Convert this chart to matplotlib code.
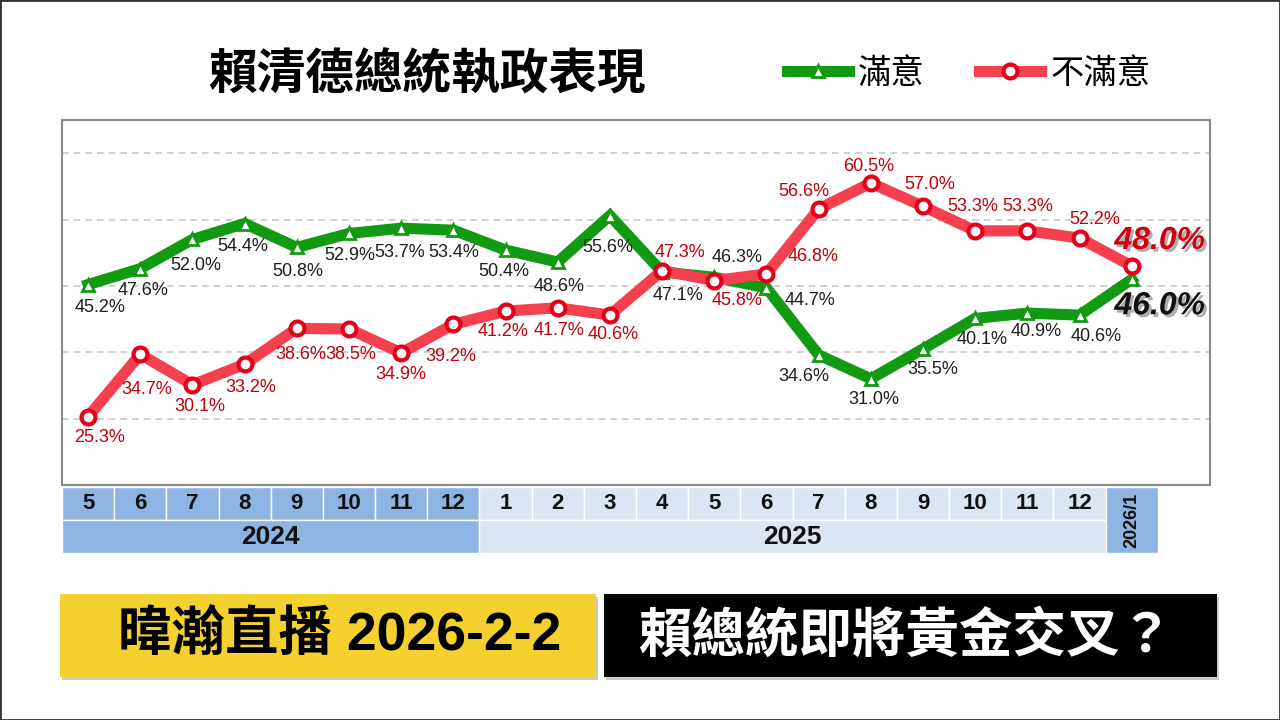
import matplotlib
matplotlib.use('Agg')
import matplotlib.pyplot as plt
import matplotlib.patheffects as pe
from matplotlib.patches import Rectangle

CJK = 'Noto Sans CJK TC'
NUM = ['Liberation Sans Narrow', 'Liberation Sans', 'DejaVu Sans']
BOLDNUM = ['Liberation Sans', 'Noto Sans CJK TC']

# ---- data ----
months = ['5', '6', '7', '8', '9', '10', '11', '12',
          '1', '2', '3', '4', '5', '6', '7', '8', '9', '10', '11', '12',
          '2026/1']
year_groups = [('2024', 0, 7), ('2025', 8, 19)]
last_month = '2026/1'

satisfied = [45.2, 47.6, 52.0, 54.4, 50.8, 52.9, 53.7, 53.4, 50.4, 48.6, 55.6,
             47.1, 46.3, 44.7, 34.6, 31.0, 35.5, 40.1, 40.9, 40.6, 46.0]
dissatisfied = [25.3, 34.7, 30.1, 33.2, 38.6, 38.5, 34.9, 39.2, 41.2, 41.7, 40.6,
                47.3, 45.8, 46.8, 56.6, 60.5, 57.0, 53.3, 53.3, 52.2, 48.0]

# label offsets from each point, in pixels (dx right, dy down)
sat_off = [(12, 23), (3, 22), (3, 26), (-2, 23), (1, 24), (1, 22), (-1, 24),
           (0, 22), (-2, 21), (1, 24), (-2, 32), (16, 24), (23, -20), (44, 13),
           (-15, 22), (3, 21), (10, 21), (7, 21), (9, 18), (17, 21), (28, 27)]
dis_off = [(11, 21), (6, 35), (7, 22), (6, 23), (4, 26), (2, 25), (0, 22),
           (-3, 32), (-2, 20), (1, 23), (3, 19), (18, -18), (23, 20), (47, -17),
           (-15, -17), (-2, -17), (7, -22), (-2, -24), (0, -24), (15, -19), (28, -25)]

GREEN = '#129a12'
RED_LINE = '#f5404f'
RED_MARK = '#e2001a'
BLUE = '#8eb4e3'
LIGHT = '#dce6f2'

W, H = 1280, 720
fig = plt.figure(figsize=(12.8, 7.2), dpi=100)
fig.patch.set_facecolor('white')

# ---- main plot ----
ax = fig.add_axes([62 / W, (H - 485) / H, (1210 - 62) / W, (485 - 120) / H])
x = list(range(len(months)))
ax.set_xlim(-0.5, 21.5)
ax.set_ylim(15, 70)
ax.set_yticks([25, 35, 45, 55, 65])
ax.grid(axis='y', color='#c8c8c8', linestyle=(0, (4, 3)), lw=1.2)
ax.tick_params(left=False, bottom=False, labelleft=False, labelbottom=False)
for s in ax.spines.values():
    s.set_color('#8a8a8a')
    s.set_linewidth(1.5)

l_sat, = ax.plot(x, satisfied, color=GREEN, lw=8, marker='^', ms=8,
                 mfc='white', mec=GREEN, mew=2, solid_joinstyle='miter', zorder=3)
l_dis, = ax.plot(x, dissatisfied, color=RED_LINE, lw=8, marker='o', ms=10,
                 mfc='white', mec=RED_MARK, mew=3, solid_joinstyle='miter', zorder=4)

shadow = [pe.SimplePatchShadow(offset=(2, -2), shadow_rgbFace='#777777', alpha=0.6),
          pe.Normal()]

for i, v in enumerate(satisfied):
    dx, dy = sat_off[i]
    if i == len(satisfied) - 1:
        ax.annotate(f'{v:.1f}%', (i, v), xytext=(dx, -dy), textcoords='offset pixels',
                    ha='center', va='center', fontsize=23, family=NUM,
                    weight='bold', style='italic', color='#111111',
                    path_effects=shadow, zorder=6)
    else:
        ax.annotate(f'{v:.1f}%', (i, v), xytext=(dx, -dy), textcoords='offset pixels',
                    ha='center', va='center', fontsize=13, family=NUM,
                    color='#1e1e1e', zorder=6)

for i, v in enumerate(dissatisfied):
    dx, dy = dis_off[i]
    if i == len(dissatisfied) - 1:
        ax.annotate(f'{v:.1f}%', (i, v), xytext=(dx, -dy), textcoords='offset pixels',
                    ha='center', va='center', fontsize=23, family=NUM,
                    weight='bold', style='italic', color='#d0000f',
                    path_effects=shadow, zorder=6)
    else:
        ax.annotate(f'{v:.1f}%', (i, v), xytext=(dx, -dy), textcoords='offset pixels',
                    ha='center', va='center', fontsize=13, family=NUM,
                    color='#c0000c', zorder=6)

# ---- title & legend ----
fig.text(427 / W, 1 - 75 / H, '賴清德總統執政表現', fontsize=35, weight='bold',
         family=CJK, ha='center', va='center')
fig.legend(handles=[l_sat, l_dis], labels=['滿意', '不滿意'], loc='center left',
           bbox_to_anchor=(787 / W, 1 - 73 / H), ncol=2, frameon=False,
           handlelength=1.85, handletextpad=0.27, columnspacing=1.65,
           borderpad=0, borderaxespad=0, prop=dict(family=CJK, size=24))

# ---- month / year table under the x axis ----
axt = fig.add_axes([62 / W, (H - 553) / H, (1210 - 62) / W, (553 - 487) / H])
axt.set_xlim(-0.5, 21.5)
axt.set_ylim(0, 2)
axt.axis('off')
n24 = year_groups[0][2] + 1
for i, m in enumerate(months[:-1]):
    fc = BLUE if i < n24 else LIGHT
    axt.add_patch(Rectangle((i - 0.5, 1), 1, 1, fc=fc, ec='white', lw=1))
    axt.text(i, 1.5, m, ha='center', va='center', fontsize=16, weight='bold',
             family=BOLDNUM, color='#111111')
for name, a, b in year_groups:
    fc = BLUE if name == '2024' else LIGHT
    axt.add_patch(Rectangle((a - 0.5, 0), b - a + 1, 1, fc=fc, ec='white', lw=1))
    axt.text((a + b) / 2, 0.5, name, ha='center', va='center', fontsize=19,
             weight='bold', family=BOLDNUM, color='#111111')
k = len(months) - 1
axt.add_patch(Rectangle((k - 0.5, 0), 1, 2, fc=BLUE, ec='white', lw=1))
axt.text(k, 1, last_month, ha='center', va='center', rotation=90, fontsize=13,
         weight='bold', family=BOLDNUM, color='#111111')

# ---- bottom banners ----
def banner(x0, x1, y0, y1, fc):
    fig.patches.append(Rectangle(((x0 + 2) / W, 1 - (y1 + 3) / H), (x1 - x0) / W,
                                 (y1 - y0) / H, fc='#999999', ec='none', alpha=0.5,
                                 transform=fig.transFigure, figure=fig))
    fig.patches.append(Rectangle((x0 / W, 1 - y1 / H), (x1 - x0) / W, (y1 - y0) / H,
                                 fc=fc, ec='none', transform=fig.transFigure, figure=fig))

banner(60, 596, 594, 677, '#f4d12e')
banner(604, 1217, 594, 677, 'black')
fig.text(340 / W, 1 - 636 / H, '暐瀚直播 2026-2-2', fontsize=38.5, weight='bold',
         family=BOLDNUM, ha='center', va='center', color='black')
fig.text(906 / W, 1 - 636 / H, '賴總統即將黃金交叉？', fontsize=38.5, weight='bold',
         family=CJK, ha='center', va='center', color='white')

# outer frame
fig.patches.append(Rectangle((0, 0), 1, 1, fill=False, ec='#333333', lw=2,
                             transform=fig.transFigure, figure=fig))

fig.savefig('out.png', dpi=100)
